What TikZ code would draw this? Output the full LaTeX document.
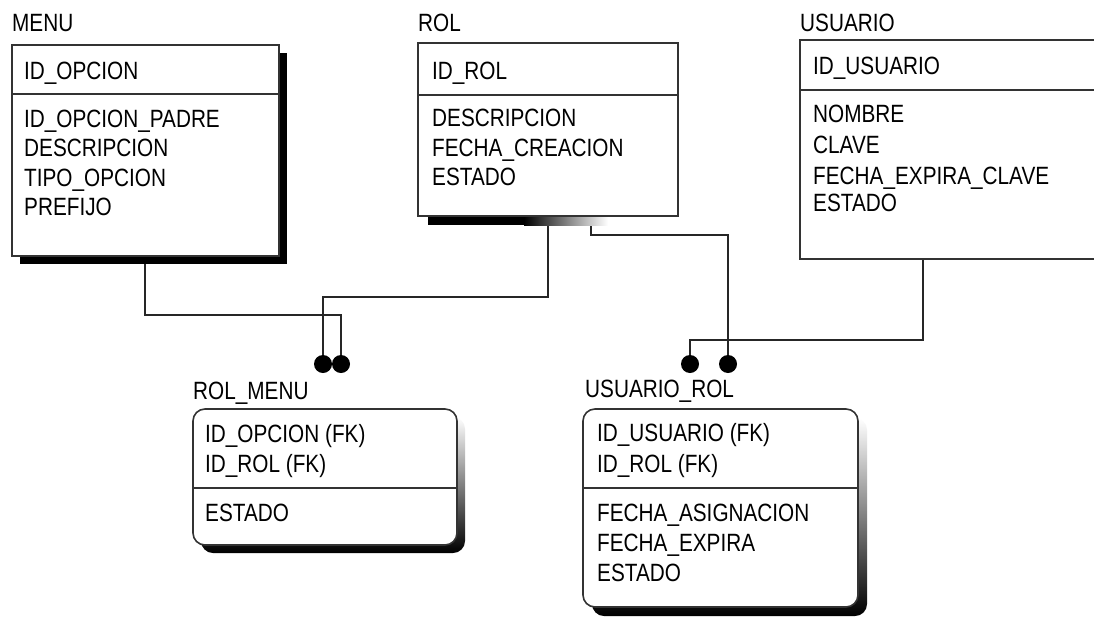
\documentclass[tikz,border=0pt]{standalone}
\usepackage{fontspec}
\setmainfont{Liberation Sans}[FakeStretch=0.83]
\pgfdeclarelayer{background}
\pgfdeclarelayer{lines}
\pgfdeclarelayer{shadow}
\pgfsetlayers{background,lines,shadow,main}
\begin{document}
\begin{tikzpicture}[x=1pt,y=-1pt,
  ebox/.style={draw=black!80, line width=1.6pt, fill=white, anchor=north west, inner sep=0pt, outer sep=0pt},
  rbox/.style={ebox, rounded corners=12pt},
  divline/.style={draw=black!80, line width=1.6pt},
  txt/.style={anchor=base west, inner sep=0pt, text=black, font=\fontsize{25pt}{30pt}\selectfont},
  dotnode/.style={circle, fill=black, minimum size=18pt, inner sep=0pt},
  conn/.style={draw=black!85, line width=1.4pt}]
\useasboundingbox (0,0) rectangle (1094,616);
\begin{pgfonlayer}{background}
\fill[white] (0,0) rectangle (1094,616);
\end{pgfonlayer}
\clip (0,0) rectangle (1094,616);

% entity boxes
\node[ebox, minimum width=267pt, minimum height=211pt] (menu) at (12,45) {};
\node[ebox, minimum width=260pt, minimum height=173pt] (rol) at (418,43) {};
\node[ebox, minimum width=310pt, minimum height=219pt] (usuario) at (800,40) {};
\node[rbox, minimum width=264pt, minimum height=136pt] (rolmenu) at (193,409) {};
\node[rbox, minimum width=275pt, minimum height=198pt] (usuariorol) at (583,409) {};

% dividers
\draw[divline] ([yshift=-49pt]menu.north west) -- ([yshift=-49pt]menu.north east);
\draw[divline] ([yshift=-52pt]rol.north west) -- ([yshift=-52pt]rol.north east);
\draw[divline] ([yshift=-50pt]usuario.north west) -- ([yshift=-50pt]usuario.north east);
\draw[divline] ([yshift=-79pt]rolmenu.north west) -- ([yshift=-79pt]rolmenu.north east);
\draw[divline] ([yshift=-79pt]usuariorol.north west) -- ([yshift=-79pt]usuariorol.north east);

% shadows
\begin{pgfonlayer}{shadow}
\fill[black] ([shift={(8pt,-8pt)}]menu.north west) rectangle ([shift={(8pt,-8pt)}]menu.south east);
\fill[black] ([shift={(10pt,0pt)}]rol.south west) rectangle ([shift={(107pt,-9pt)}]rol.south west);
\shade[left color=black, right color=white] ([shift={(106pt,0pt)}]rol.south west) rectangle ([shift={(190pt,-9pt)}]rol.south west);
\shade[top color=white, middle color=black, bottom color=black, rounded corners=12pt]
  ([shift={(8pt,-8pt)}]rolmenu.north west) rectangle ([shift={(8pt,-8pt)}]rolmenu.south east);
\shade[top color=white, middle color=black, bottom color=black, rounded corners=12pt]
  ([shift={(9pt,-9pt)}]usuariorol.north west) rectangle ([shift={(9pt,-9pt)}]usuariorol.south east);
\end{pgfonlayer}

% titles
\node[txt] (tmenu) at (12,31) {MENU};
\node[txt] (trol) at (418,31) {ROL};
\node[txt] (tusuario) at (800,31) {USUARIO};
\node[txt] (trolmenu) at (193,399) {ROL\_MENU};
\node[txt] (tusuariorol) at (585,397) {USUARIO\_ROL};

% MENU attributes
\node[txt] (m0) at (24,79) {ID\_OPCION};
\node[txt] (m1) at (24,127) {ID\_OPCION\_PADRE};
\node[txt] (m2) at (24,156.5) {DESCRIPCION};
\node[txt] (m3) at (24,186) {TIPO\_OPCION};
\node[txt] (m4) at (24,215.5) {PREFIJO};

% ROL attributes
\node[txt] (r0) at (432,79) {ID\_ROL};
\node[txt] (r1) at (432,126) {DESCRIPCION};
\node[txt] (r2) at (432,156) {FECHA\_CREACION};
\node[txt] (r3) at (432,185) {ESTADO};

% USUARIO attributes
\node[txt] (u0) at (813,74) {ID\_USUARIO};
\node[txt] (u1) at (813,122) {NOMBRE};
\node[txt] (u2) at (813,153) {CLAVE};
\node[txt] (u3) at (813,184) {FECHA\_EXPIRA\_CLAVE};
\node[txt] (u4) at (813,211) {ESTADO};

% ROL_MENU attributes
\node[txt] (rm0) at (205,442) {ID\_OPCION (FK)};
\node[txt] (rm1) at (205,472) {ID\_ROL (FK)};
\node[txt] (rm2) at (205,521) {ESTADO};

% USUARIO_ROL attributes
\node[txt] (ur0) at (597,441) {ID\_USUARIO (FK)};
\node[txt] (ur1) at (597,472) {ID\_ROL (FK)};
\node[txt] (ur2) at (597,521) {FECHA\_ASIGNACION};
\node[txt] (ur3) at (597,551) {FECHA\_EXPIRA};
\node[txt] (ur4) at (597,581) {ESTADO};

% relationship end dots
\node[dotnode] (d1) at (323,364) {};
\node[dotnode] (d2) at (341,364) {};
\node[dotnode] (d3) at (690,364) {};
\node[dotnode] (d4) at (728,364) {};

% connectors
\begin{pgfonlayer}{lines}
\draw[conn] ([xshift=133pt]menu.south west) |- ([yshift=49pt]d2.center) -- (d2.center);
\draw[conn] ([xshift=130pt]rol.south west) |- ([yshift=67pt]d1.center) -- (d1.center);
\draw[conn] ([xshift=173pt]rol.south west) |- ([yshift=129pt]d4.center) -- (d4.center);
\draw[conn] ([xshift=123pt]usuario.south west) |- ([yshift=24pt]d3.center) -- (d3.center);
\end{pgfonlayer}
\end{tikzpicture}
\end{document}
